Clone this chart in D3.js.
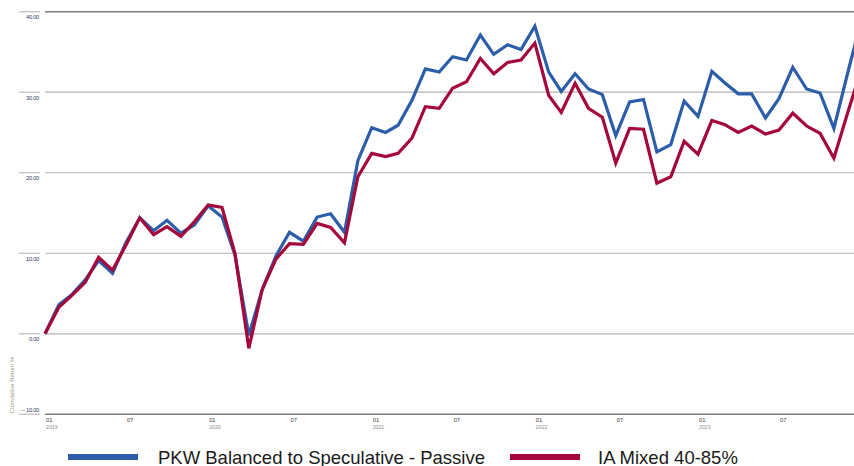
<!DOCTYPE html>
<html>
<head>
<meta charset="utf-8">
<script src="https://cdn.jsdelivr.net/npm/d3@7"></script>
<style>
  body { margin: 0; background: #fff; }
  svg { display: block; font-family: "Liberation Sans", Arial, sans-serif; }
</style>
</head>
<body>
<div id="chart"></div>
<script>
// monthly points, Jan 2019 .. Jan 2024 (last one runs off the right edge)
const months = d3.timeMonth.range(new Date(2019, 0, 1), new Date(2024, 1, 1));

const pkwValues = [
  0, 3.6, 4.8, 6.7, 9.1, 7.5, 11.3, 14.4, 12.8, 14.1, 12.5, 13.5,
  15.9, 14.5, 9.8, -0.2, 5.5, 9.7, 12.6, 11.5, 14.5, 14.9, 12.6, 21.5,
  25.6, 25.0, 25.9, 29.0, 32.9, 32.5, 34.4, 34.0, 37.1, 34.7, 35.9, 35.3,
  38.2, 32.5, 30.1, 32.3, 30.4, 29.7, 24.6, 28.8, 29.1, 22.6, 23.5, 28.9,
  27.0, 32.6, 31.2, 29.8, 29.8, 26.8, 29.2, 33.1, 30.4, 29.9, 25.5, 32.2,
  38.9
];

const iaValues = [
  0, 3.3, 4.7, 6.4, 9.5, 7.9, 11.0, 14.4, 12.3, 13.3, 12.1, 13.9,
  16.0, 15.7, 10.0, -1.8, 5.5, 9.3, 11.2, 11.1, 13.7, 13.2, 11.3, 19.5,
  22.4, 22.0, 22.4, 24.3, 28.2, 28.0, 30.5, 31.3, 34.2, 32.3, 33.7, 34.0,
  36.1, 29.6, 27.5, 31.1, 28.0, 26.9, 21.2, 25.5, 25.4, 18.7, 19.5, 23.9,
  22.3, 26.5, 26.0, 25.0, 25.8, 24.8, 25.3, 27.4, 25.8, 24.9, 21.8, 27.3,
  32.8
];

const yTicks = [40, 30, 20, 10, 0, -10];
const xTicks = d3.timeMonth.every(6).range(new Date(2019, 0, 1), new Date(2023, 11, 1));

const series = [
  { name: "PKW Balanced to Speculative - Passive", values: pkwValues, color: "#2b5da8" },
  { name: "IA Mixed 40-85%", values: iaValues, color: "#a6073a" }
];

const width = 854;
const height = 466;
const plot = { left: 45, right: 854, top: 11.7, bottom: 414.3 };

const svg = d3.select("#chart")
  .append("svg")
  .attr("width", width)
  .attr("height", height);

const xScale = d3.scaleTime()
  .domain([new Date(2019, 0, 1), new Date(2023, 11, 16)])
  .range([plot.left, plot.right]);

const yScale = d3.scaleLinear()
  .domain([-10, 40])
  .range([plot.bottom, plot.top]);

// gridlines (top and bottom a bit darker)
svg.append("g")
  .attr("class", "gridlines")
  .selectAll("line")
  .data(yTicks)
  .join("line")
  .attr("x1", plot.left)
  .attr("x2", plot.right)
  .attr("y1", d => yScale(d))
  .attr("y2", d => yScale(d))
  .attr("stroke", d => (d === 40 || d === -10) ? "#7d7d7d" : "#b4b4b4")
  .attr("stroke-width", d => (d === 40 || d === -10) ? 1.6 : 1.2);

// y axis: short lines with the label sitting under them
const yAxis = svg.append("g").attr("class", "y-axis");
yAxis.selectAll("line")
  .data(yTicks)
  .join("line")
  .attr("x1", 19)
  .attr("x2", 40)
  .attr("y1", d => yScale(d))
  .attr("y2", d => yScale(d))
  .attr("stroke", "#bdbdbd")
  .attr("stroke-width", 1.2);

yAxis.selectAll("text")
  .data(yTicks)
  .join("text")
  .attr("x", 39)
  .attr("y", d => d === -10 ? yScale(d) - 2.5 : yScale(d) + 7.5)
  .attr("text-anchor", "end")
  .attr("font-size", 5.8)
  .attr("letter-spacing", -0.3)
  .attr("fill", "#34425e")
  .text(d => (d < 0 ? "\u2013 " + Math.abs(d) : d).toString().replace(/(\d+)$/, "$1.00"));

svg.append("text")
  .attr("transform", "translate(14, 385) rotate(-90)")
  .attr("text-anchor", "middle")
  .attr("font-size", 6)
  .attr("fill", "#a09680")
  .text("Cumulative Return %");

// x axis labels
const xAxis = svg.append("g").attr("class", "x-axis");
xAxis.selectAll("text.month")
  .data(xTicks)
  .join("text")
  .attr("class", "month")
  .attr("x", d => xScale(d) + 1)
  .attr("y", 422)
  .attr("font-size", 5.8)
  .attr("fill", "#3a3a3a")
  .text(d3.timeFormat("%m"));

xAxis.selectAll("text.year")
  .data(xTicks.filter(d => d.getMonth() === 0))
  .join("text")
  .attr("class", "year")
  .attr("x", d => xScale(d) + 1)
  .attr("y", 429)
  .attr("font-size", 5.2)
  .attr("fill", "#8c8c8c")
  .text(d3.timeFormat("%Y"));

// lines
svg.append("clipPath")
  .attr("id", "plot-clip")
  .append("rect")
  .attr("x", plot.left - 3)
  .attr("y", 0)
  .attr("width", plot.right - plot.left + 3)
  .attr("height", height);

const line = d3.line()
  .x((d, i) => xScale(months[i]))
  .y(d => yScale(d));

svg.append("g")
  .attr("clip-path", "url(#plot-clip)")
  .selectAll("path")
  .data(series)
  .join("path")
  .attr("d", d => line(d.values))
  .attr("fill", "none")
  .attr("stroke", d => d.color)
  .attr("stroke-width", 3.2)
  .attr("stroke-linejoin", "miter");

// legend
const legendX = [{ sw: 68, tx: 158 }, { sw: 510, tx: 598 }];
const legend = svg.append("g").attr("class", "legend")
  .selectAll("g")
  .data(series)
  .join("g");

legend.append("line")
  .attr("x1", (d, i) => legendX[i].sw)
  .attr("x2", (d, i) => legendX[i].sw + 70)
  .attr("y1", 457)
  .attr("y2", 457)
  .attr("stroke", d => d.color)
  .attr("stroke-width", 6);

legend.append("text")
  .attr("x", (d, i) => legendX[i].tx)
  .attr("y", 463.5)
  .attr("font-size", 18.5)
  .attr("fill", "#1a1a1a")
  .text(d => d.name);
</script>
</body>
</html>
